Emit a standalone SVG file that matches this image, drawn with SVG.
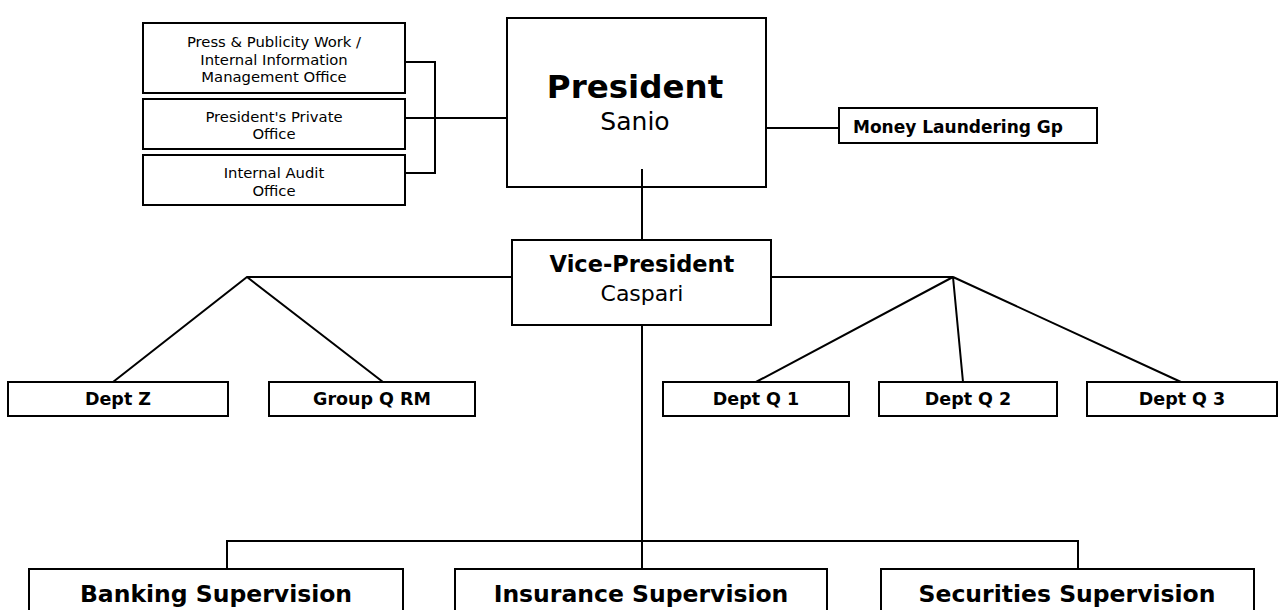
<svg xmlns="http://www.w3.org/2000/svg" width="1286" height="610" viewBox="0 0 1286 610">
<style>
.box{fill:#fff;stroke:#000;stroke-width:2}
.ln{fill:none;stroke:#000;stroke-width:2}
text{font-family:"DejaVu Sans","Liberation Sans",sans-serif;fill:#000;text-anchor:middle}
.b{font-weight:bold}
.sm{font-size:14.8px}
.dp{font-size:17.5px;font-weight:bold}
.big{font-size:23.5px;font-weight:bold}
</style>
<rect width="1286" height="610" fill="#fff"/>
<g id="connectors">
<path class="ln" d="M405 62H435V173H405M405 118H507"/>
<path class="ln" d="M766 128H839"/>
<path class="ln" d="M642 169V240"/>
<path class="ln" d="M512 277H247L113 382M247 277L383 382"/>
<path class="ln" d="M771 277H953L756 382M953 277L963 382M953 277L1181 382"/>
<path class="ln" d="M642 325V569M227 569V541H1078V569"/>
</g>
<g id="press"><rect class="box" x="143" y="23" width="262" height="70"/>
<text class="sm" x="274" y="47">Press &amp; Publicity Work /</text>
<text class="sm" x="274" y="65">Internal Information</text>
<text class="sm" x="274" y="82">Management Office</text></g>
<g id="private"><rect class="box" x="143" y="99" width="262" height="50"/>
<text class="sm" x="274" y="122">President's Private</text>
<text class="sm" x="274" y="139">Office</text></g>
<g id="audit"><rect class="box" x="143" y="155" width="262" height="50"/>
<text class="sm" x="274" y="178">Internal Audit</text>
<text class="sm" x="274" y="196">Office</text></g>
<g id="president"><rect class="box" x="507" y="18" width="259" height="169"/>
<text class="b" x="635" y="98" font-size="32.5">President</text>
<text x="635" y="130" font-size="25">Sanio</text>
<path class="ln" d="M642 169V187"/></g>
<g id="money"><rect class="box" x="839" y="108" width="258" height="35"/>
<text class="b" x="853" y="133" font-size="17" style="text-anchor:start">Money Laundering Gp</text></g>
<g id="vp"><rect class="box" x="512" y="240" width="259" height="85"/>
<text class="b" x="642" y="272" font-size="22.5">Vice-President</text>
<text x="642" y="301" font-size="22">Caspari</text></g>
<g id="deptz"><rect class="box" x="8" y="382" width="220" height="34"/>
<text class="dp" x="118" y="405">Dept Z</text></g>
<g id="groupqrm"><rect class="box" x="269" y="382" width="206" height="34"/>
<text class="dp" x="372" y="405">Group Q RM</text></g>
<g id="deptq1"><rect class="box" x="663" y="382" width="186" height="34"/>
<text class="dp" x="756" y="405">Dept Q 1</text></g>
<g id="deptq2"><rect class="box" x="879" y="382" width="178" height="34"/>
<text class="dp" x="968" y="405">Dept Q 2</text></g>
<g id="deptq3"><rect class="box" x="1087" y="382" width="190" height="34"/>
<text class="dp" x="1182" y="405">Dept Q 3</text></g>
<g id="banking"><rect class="box" x="29" y="569" width="374" height="60"/>
<text class="big" x="216" y="602">Banking Supervision</text></g>
<g id="insurance"><rect class="box" x="455" y="569" width="372" height="60"/>
<text class="big" x="641" y="602">Insurance Supervision</text></g>
<g id="securities"><rect class="box" x="881" y="569" width="373" height="60"/>
<text class="big" x="1067" y="602">Securities Supervision</text></g>
</svg>
